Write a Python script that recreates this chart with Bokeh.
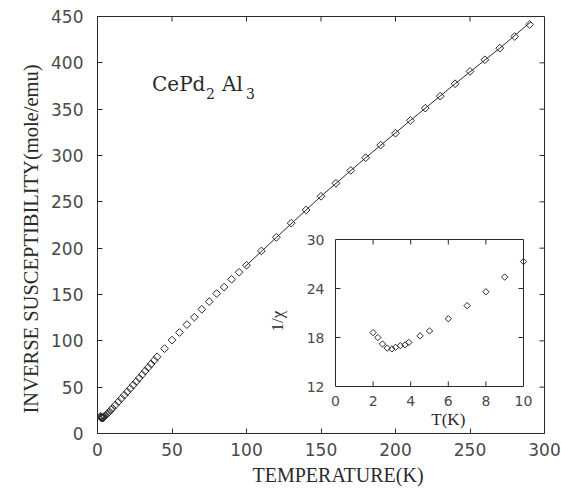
import numpy as np
from bokeh.plotting import figure
from bokeh.models import Range1d, FixedTicker, Title
from bokeh.core.properties import value
from bokeh.embed import file_html
from bokeh.resources import INLINE

# ---------------- data ----------------
T_low = [2.0, 2.25, 2.5, 2.75, 3.0, 3.2, 3.45, 3.7, 3.9, 4.5, 5.0, 6.0, 7.0, 8.0, 9.0, 10.0]
inv_chi_low = [18.6, 18.0, 17.2, 16.7, 16.6, 16.8, 17.0, 17.1, 17.4, 18.2, 18.8, 20.3, 21.9, 23.6, 25.4, 27.3]

T_mid = [12, 14, 16, 18, 20, 22, 24, 26, 28, 30, 32, 34, 36, 38, 40]
inv_chi_mid = [30.6, 34.2, 37.8, 41.4, 45.0, 48.6, 52.3, 56.0, 59.8, 63.6, 67.4, 71.2, 75.0, 78.9, 82.8]

T_high = [45, 50, 55, 60, 65, 70, 75, 80, 85, 90, 95, 100,
          110, 120, 130, 140, 150, 160, 170, 180, 190, 200,
          210, 220, 230, 240, 250, 260, 270, 280, 290]
inv_chi_high = [91.6, 100.8, 109.0, 117.5, 125.5, 134.0, 142.3, 151.0, 158.0, 166.4, 174.0, 181.5,
                197.0, 211.7, 227.0, 241.2, 256.0, 270.0, 283.9, 297.6, 311.2, 324.1,
                337.8, 351.1, 364.0, 377.4, 390.7, 403.3, 415.8, 428.4, 441.3]

fit_T = [99, 120, 150, 180, 210, 240, 270, 291]
fit_inv_chi = [180.0, 211.5, 256.0, 297.6, 337.8, 377.4, 415.8, 444.5]

x_ticks = [0, 50, 100, 150, 200, 250, 300]
y_ticks = [0, 50, 100, 150, 200, 250, 300, 350, 400, 450]
inset_x_ticks = [0, 2, 4, 6, 8, 10]
inset_y_ticks = [12, 18, 24, 30]

# ---------------- layout constants (pixels) ----------------
W, H = 561, 489
FL, FR, FT, FB = 97, 544, 16, 433          # main frame
IL, IR, IT, IB = 335, 523, 239, 386        # inset frame

INK = "#2a2a2a"
TICKFONT = "#4a4a4a"
serif = value("Liberation Serif")

T_all = T_low + T_mid + T_high
inv_all = inv_chi_low + inv_chi_mid + inv_chi_high

x0, x1 = x_ticks[0], x_ticks[-1]
y0, y1 = y_ticks[0], y_ticks[-1]
p = figure(width=W, height=H,
           x_range=Range1d(x0, x1), y_range=Range1d(y0, y1),
           output_backend="svg", toolbar_location=None,
           min_border_left=FL, min_border_right=W - FR,
           min_border_top=FT, min_border_bottom=H - FB,
           background_fill_color="white", border_fill_color="white",
           outline_line_color=INK, outline_line_width=1)
p.grid.visible = False

kx = (FR - FL) / (x1 - x0)
ky = (FB - FT) / (y1 - y0)


def dx(px):
    return x0 + (px - FL) / kx


def dy(py):
    return y0 + (FB - py) / ky


for ax, ticks in ((p.xaxis[0], x_ticks), (p.yaxis[0], y_ticks)):
    ax.ticker = FixedTicker(ticks=ticks)
    ax.major_tick_in = 5
    ax.major_tick_out = 0
    ax.minor_tick_in = 0
    ax.minor_tick_out = 0
    ax.axis_line_color = INK
    ax.major_tick_line_color = INK
    ax.major_label_text_font = "DejaVu Sans"
    ax.major_label_text_font_size = "17px"
    ax.major_label_text_color = TICKFONT
p.xaxis[0].major_label_standoff = 9
p.yaxis[0].major_label_standoff = 14

# axis titles as side titles (allow an offset along the axis)
p.add_layout(Title(text="TEMPERATURE(K)", align="left", offset=155, standoff=6,
                   text_font="Liberation Serif", text_font_size="20px",
                   text_font_style="normal", text_color=INK), "below")
p.add_layout(Title(text="INVERSE SUSCEPTIBILITY(mole/emu)", align="left", offset=20,
                   standoff=13, text_font="Liberation Serif", text_font_size="20.5px",
                   text_font_style="normal", text_color=INK), "left")

inner_xt = x_ticks[1:-1]
inner_yt = y_ticks[1:-1]
p.ray(x=inner_xt, y=[y1] * len(inner_xt), length=5, length_units="screen",
      angle=-np.pi / 2, line_color=INK, line_width=1)
p.ray(x=[x1] * len(inner_yt), y=inner_yt, length=5, length_units="screen",
      angle=np.pi, line_color=INK, line_width=1)

p.line(fit_T, fit_inv_chi, line_color=INK, line_width=1)
p.scatter(T_all, inv_all, marker="square", angle=np.pi / 4, size=5.5,
          fill_color=None, line_color=INK, line_width=1)

name_x, name_y = [dx(151.5)], [dy(83.3)]
nfont = value("DejaVu Serif")
p.text(name_x, name_y, text=["CePd"], text_font=nfont, text_font_size="20px",
       text_baseline="alphabetic", text_align="left", text_color=INK)
p.text(name_x, name_y, text=["2"], text_font=nfont, text_font_size="14px",
       x_offset=54, y_offset=10, text_baseline="alphabetic", text_color=INK)
p.text(name_x, name_y, text=["Al"], text_font=nfont, text_font_size="20px",
       x_offset=70, text_baseline="alphabetic", text_color=INK)
p.text(name_x, name_y, text=["3"], text_font=nfont, text_font_size="14px",
       x_offset=94, y_offset=10, text_baseline="alphabetic", text_color=INK)

ix0, ix1 = inset_x_ticks[0], inset_x_ticks[-1]
iy0, iy1 = inset_y_ticks[0], inset_y_ticks[-1]
sx = (IR - IL) / (ix1 - ix0)
sy = (IB - IT) / (iy1 - iy0)
p.extra_x_ranges = {"ix": Range1d(ix0 - (IL - FL) / sx, ix1 + (FR - IR) / sx)}
p.extra_y_ranges = {"iy": Range1d(iy0 - (FB - IB) / sy, iy1 + (IT - FT) / sy)}
kw = dict(x_range_name="ix", y_range_name="iy")

p.quad(left=[ix0], right=[ix1], bottom=[iy0], top=[iy1], fill_color="white",
       line_color=INK, line_width=1, **kw)

inner_x = inset_x_ticks[1:-1]
inner_y = inset_y_ticks[1:-1]
p.ray(x=inner_x, y=[iy0] * len(inner_x), length=5, length_units="screen",
      angle=np.pi / 2, line_color=INK, line_width=1, **kw)
p.ray(x=inner_x, y=[iy1] * len(inner_x), length=5, length_units="screen",
      angle=-np.pi / 2, line_color=INK, line_width=1, **kw)
p.ray(x=[ix0] * len(inner_y), y=inner_y, length=5, length_units="screen",
      angle=0, line_color=INK, line_width=1, **kw)
p.ray(x=[ix1] * len(inner_y), y=inner_y, length=5, length_units="screen",
      angle=np.pi, line_color=INK, line_width=1, **kw)

p.text(x=inset_x_ticks, y=[iy0] * len(inset_x_ticks),
       text=[str(t) for t in inset_x_ticks], text_align="center",
       text_baseline="top", y_offset=9, text_font=value("DejaVu Sans"),
       text_font_size="14px", text_color=TICKFONT, **kw)
p.text(x=[ix0] * len(inset_y_ticks), y=inset_y_ticks,
       text=[str(t) for t in inset_y_ticks], text_align="right",
       text_baseline="middle", x_offset=-11, text_font=value("DejaVu Sans"),
       text_font_size="14px", text_color=TICKFONT, **kw)

p.text(x=[6], y=[iy0], text=["T(K)"], text_align="center", text_baseline="middle",
       y_offset=33, text_font=serif, text_font_size="17px", text_color=INK, **kw)
p.text(x=[ix0], y=[20], text=["1/χ"], text_align="center", text_baseline="middle",
       angle=np.pi / 2, x_offset=-58, text_font=serif, text_font_size="17px",
       text_color=INK, **kw)

p.scatter(T_low, inv_chi_low, marker="square", angle=np.pi / 4, size=4.5,
          fill_color=None, line_color=INK, line_width=1, **kw)

open("out.html", "w").write(file_html(p, INLINE))
